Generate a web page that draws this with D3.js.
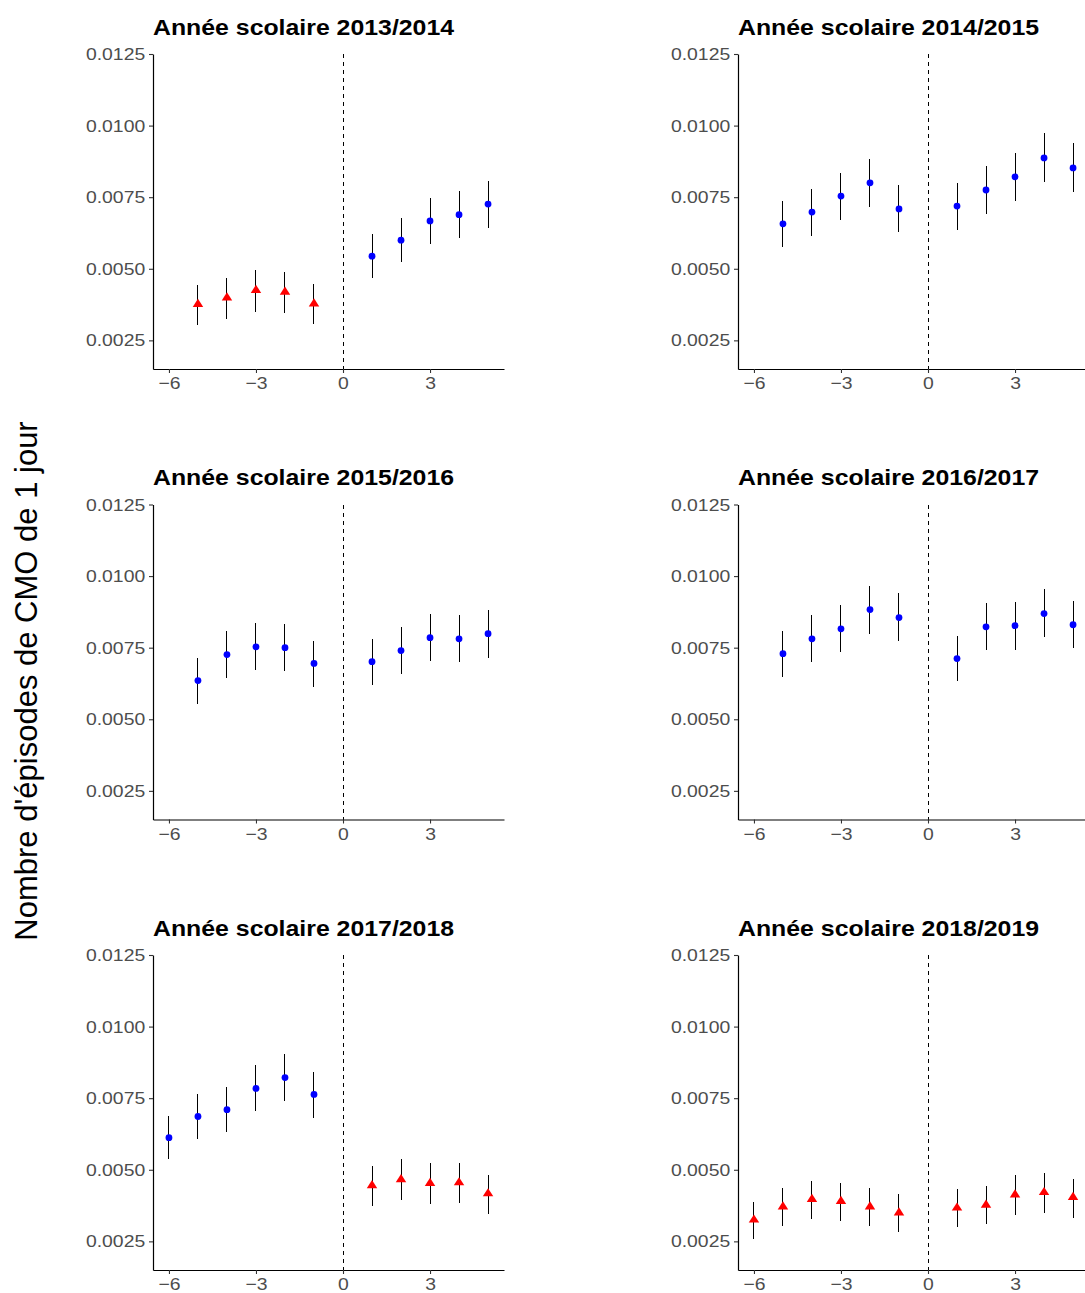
<!DOCTYPE html>
<html>
<head>
<meta charset="utf-8">
<script src="https://cdn.jsdelivr.net/npm/d3@7"></script>
<style>
  body { margin: 0; background: #fff; overflow: hidden; }
  svg { display: block; font-family: "Liberation Sans", Arial, sans-serif; }
</style>
</head>
<body>
<div id="chart"></div>
<script>
// one entry per panel, row by row
const TITLES = [
  "Année scolaire 2013/2014", "Année scolaire 2014/2015",
  "Année scolaire 2015/2016", "Année scolaire 2016/2017",
  "Année scolaire 2017/2018", "Année scolaire 2018/2019"
];

const PERIODS_5 = [-5, -4, -3, -2, -1, 1, 2, 3, 4, 5];
const PERIODS_6 = [-6, -5, -4, -3, -2, -1, 1, 2, 3, 4, 5];
const PERIODS = [PERIODS_5, PERIODS_5, PERIODS_5, PERIODS_5, PERIODS_6, PERIODS_6];

const EST = [
  [0.00376, 0.00399, 0.00425, 0.00419, 0.00378, 0.00544, 0.00600, 0.00667, 0.00689, 0.00726],
  [0.00657, 0.00698, 0.00754, 0.00800, 0.00709, 0.00719, 0.00775, 0.00821, 0.00887, 0.00852],
  [0.00635, 0.00726, 0.00753, 0.00750, 0.00695, 0.00701, 0.00740, 0.00785, 0.00781, 0.00799],
  [0.00729, 0.00781, 0.00816, 0.00883, 0.00855, 0.00712, 0.00823, 0.00827, 0.00869, 0.00830],
  [0.00612, 0.00686, 0.00710, 0.00784, 0.00822, 0.00763, 0.00445, 0.00466, 0.00453, 0.00455, 0.00417],
  [0.00325, 0.00371, 0.00397, 0.00390, 0.00371, 0.00350, 0.00367, 0.00377, 0.00413, 0.00421, 0.00404]
];

const LOW = [
  [0.00305, 0.00326, 0.00349, 0.00345, 0.00306, 0.00468, 0.00524, 0.00586, 0.00608, 0.00643],
  [0.00577, 0.00615, 0.00671, 0.00716, 0.00629, 0.00637, 0.00691, 0.00737, 0.00802, 0.00767],
  [0.00555, 0.00644, 0.00672, 0.00668, 0.00614, 0.00618, 0.00657, 0.00703, 0.00699, 0.00713],
  [0.00647, 0.00701, 0.00734, 0.00798, 0.00772, 0.00632, 0.00741, 0.00743, 0.00786, 0.00748],
  [0.00538, 0.00608, 0.00631, 0.00705, 0.00740, 0.00682, 0.00374, 0.00393, 0.00382, 0.00384, 0.00346],
  [0.00258, 0.00302, 0.00327, 0.00320, 0.00302, 0.00283, 0.00299, 0.00309, 0.00343, 0.00350, 0.00332]
];

const HIGH = [
  [0.00443, 0.00468, 0.00495, 0.00488, 0.00446, 0.00620, 0.00679, 0.00746, 0.00770, 0.00808],
  [0.00735, 0.00777, 0.00836, 0.00882, 0.00793, 0.00800, 0.00859, 0.00905, 0.00973, 0.00938],
  [0.00713, 0.00807, 0.00836, 0.00832, 0.00774, 0.00781, 0.00822, 0.00869, 0.00864, 0.00880],
  [0.00808, 0.00864, 0.00899, 0.00967, 0.00941, 0.00792, 0.00906, 0.00910, 0.00955, 0.00914],
  [0.00688, 0.00765, 0.00790, 0.00867, 0.00905, 0.00843, 0.00513, 0.00536, 0.00522, 0.00524, 0.00482],
  [0.00388, 0.00436, 0.00462, 0.00455, 0.00436, 0.00416, 0.00433, 0.00443, 0.00481, 0.00489, 0.00469]
];

// "bas" = red triangle, "haut" = blue dot
const LEVEL = [
  ["bas","bas","bas","bas","bas","haut","haut","haut","haut","haut"],
  ["haut","haut","haut","haut","haut","haut","haut","haut","haut","haut"],
  ["haut","haut","haut","haut","haut","haut","haut","haut","haut","haut"],
  ["haut","haut","haut","haut","haut","haut","haut","haut","haut","haut"],
  ["haut","haut","haut","haut","haut","haut","bas","bas","bas","bas","bas"],
  ["bas","bas","bas","bas","bas","bas","bas","bas","bas","bas","bas"]
];

const X_TICKS = [-6, -3, 0, 3];
const Y_TICKS = [0.0025, 0.0050, 0.0075, 0.0100, 0.0125];
const Y_TITLE = "Nombre d'épisodes de CMO de 1 jour";

const W = 1085, H = 1293;
const colLeft = [153, 738];
const rowTop  = [54, 504.5, 955];
const pw = 351, ph = 315;
const stretch = 1.12;   // the source image is a bit wider than tall

const svg = d3.select("#chart").append("svg")
  .attr("width", W)
  .attr("height", H);

const x = d3.scaleLinear().domain([-6.55, 5.55]).range([0, pw]);
const y = d3.scaleLinear().domain([0.0015, 0.0125]).range([ph, 0]);

const tri = d3.symbol().type(d3.symbolTriangle).size(38);

TITLES.forEach((title, i) => {
  const g = svg.append("g")
    .attr("transform", `translate(${colLeft[i % 2]},${rowTop[Math.floor(i / 2)]})`);

  const pts = PERIODS[i].map((p, j) => ({
    p, est: EST[i][j], lo: LOW[i][j], hi: HIGH[i][j], level: LEVEL[i][j]
  }));

  // dashed reference line at 0
  g.append("line")
    .attr("x1", x(0)).attr("x2", x(0))
    .attr("y1", 0).attr("y2", ph)
    .attr("stroke", "#000")
    .attr("stroke-width", 1)
    .attr("stroke-dasharray", "4,4")
    .attr("shape-rendering", "crispEdges");

  // error bars
  g.append("g").selectAll("line")
    .data(pts)
    .enter()
    .append("line")
    .attr("x1", d => x(d.p)).attr("x2", d => x(d.p))
    .attr("y1", d => y(d.lo)).attr("y2", d => y(d.hi))
    .attr("stroke", "#000")
    .attr("stroke-width", 1)
    .attr("shape-rendering", "crispEdges");

  // points
  g.append("g").selectAll("circle")
    .data(pts.filter(d => d.level === "haut"))
    .enter()
    .append("circle")
    .attr("cx", d => x(d.p))
    .attr("cy", d => y(d.est))
    .attr("r", 3.4)
    .attr("fill", "#0000FF");

  g.append("g").selectAll("path")
    .data(pts.filter(d => d.level === "bas"))
    .enter()
    .append("path")
    .attr("d", tri)
    .attr("transform", d => `translate(${x(d.p)},${y(d.est)}) scale(${stretch},1)`)
    .attr("fill", "#FF0000");

  // axes
  const ya = g.append("g")
    .call(d3.axisLeft(y).tickValues(Y_TICKS).tickFormat(d3.format(".4f"))
      .tickSize(4).tickSizeOuter(0).tickPadding(3));
  const xa = g.append("g")
    .attr("transform", `translate(0,${ph})`)
    .call(d3.axisBottom(x).tickValues(X_TICKS)
      .tickSize(4).tickSizeOuter(0).tickPadding(4));

  [ya, xa].forEach(a => {
    a.select(".domain").attr("stroke", "#000").attr("stroke-width", 1.2);
    a.selectAll(".tick line").attr("stroke", "#333").attr("stroke-width", 1.1);
    a.selectAll(".tick text")
      .attr("fill", "#4D4D4D")
      .attr("transform", `scale(${stretch},1)`)
      .style("font-size", "17.3px")
      .style("font-family", "'Liberation Sans', Arial, sans-serif");
  });

  g.append("text")
    .attr("transform", `translate(0,-19.5) scale(${stretch},1)`)
    .text(title)
    .style("font-size", "22.2px")
    .style("font-weight", "bold")
    .attr("fill", "#000");
});

svg.append("text")
  .attr("transform", "translate(37,681) rotate(-90)")
  .attr("text-anchor", "middle")
  .text(Y_TITLE)
  .style("font-size", "31px")
  .attr("fill", "#000");
</script>
</body>
</html>
